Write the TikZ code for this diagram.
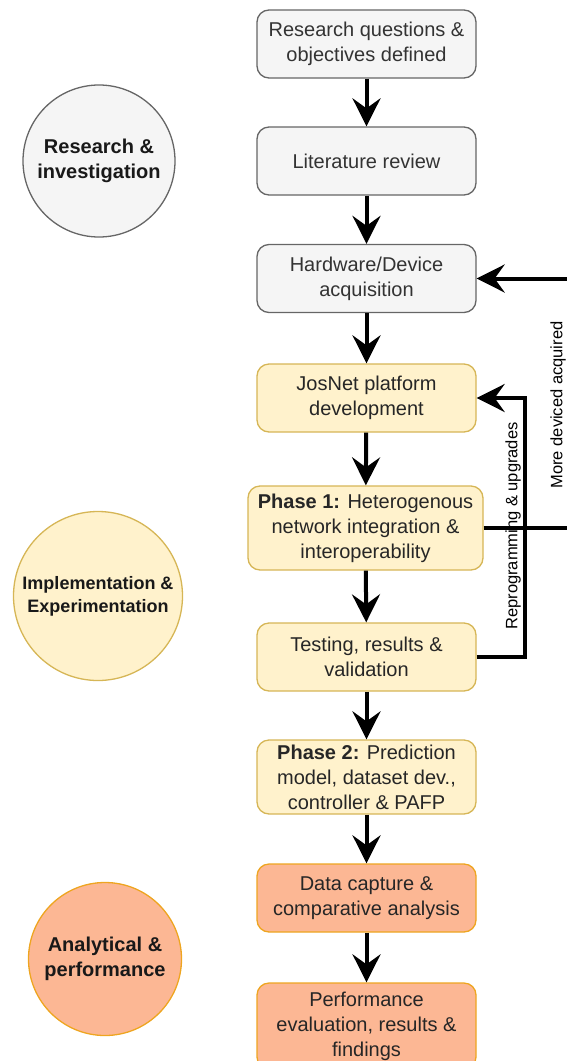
\documentclass[tikz,border=0pt]{standalone}
\usepackage{fontspec}
\setmainfont{Liberation Sans}
\usetikzlibrary{arrows.meta}

\definecolor{greyfill}{HTML}{F5F5F5}
\definecolor{greyline}{HTML}{666666}
\definecolor{greytext}{HTML}{333333}
\definecolor{yelfill}{HTML}{FFF2CC}
\definecolor{yelline}{HTML}{D6B656}
\definecolor{orfill}{RGB}{252,183,148}
\definecolor{orline}{RGB}{238,165,32}

\tikzset{
  x=1pt, y=-1pt,
  boxbase/.style={rectangle, rounded corners=12pt, line width=1.3pt,
    minimum width=219pt, minimum height=68pt, align=center,
    font=\fontsize{20}{25}\selectfont, inner sep=2pt},
  greybox/.style={boxbase, fill=greyfill, draw=greyline, text=greytext},
  yelbox/.style={boxbase, fill=yelfill, draw=yelline, text=black!85},
  orbox/.style={boxbase, fill=orfill, draw=orline, text=black!85},
  stage/.style={circle, line width=1.3pt, align=center, inner sep=0pt,
    font=\bfseries\fontsize{20}{25}\selectfont, text=black!90},
  flow/.style={line width=4pt, line join=miter,
    -{Stealth[length=28pt, width=28pt, inset=10pt]}},
  sidelabel/.style={rotate=90, font=\fontsize{16.5}{20}\selectfont, inner sep=0pt}
}

\begin{document}
\begin{tikzpicture}
\path[use as bounding box, clip] (0,0) rectangle (567,1061);

% stage circles on the left
\node[stage, minimum size=152pt, fill=greyfill, draw=greyline] (s1) at (99,161)
  {Research \&\\investigation};
\node[stage, minimum size=169pt, fill=yelfill, draw=yelline,
  font=\bfseries\fontsize{18}{23}\selectfont] (s2) at (98,596)
  {Implementation \&\\Experimentation};
\node[stage, minimum size=153pt, fill=orfill, draw=orline] (s3) at (105,959)
  {Analytical \&\\performance};

% main sequence of steps
\node[greybox] (b1) at (366.5,44) {Research questions \&\\objectives defined};
\node[greybox] (b2) at (366.5,161) {Literature review};
\node[greybox] (b3) at (366.5,278.5) {Hardware/Device\\acquisition};
\node[yelbox] (b4) at (366.5,398) {JosNet platform\\development};
\node[yelbox, minimum width=235pt, minimum height=84pt] (b5) at (365.5,528)
  {\textbf{Phase 1:} Heterogenous\\network integration \&\\interoperability};
\node[yelbox] (b6) at (366.5,657) {Testing, results \&\\validation};
\node[yelbox, minimum height=74pt] (b7) at (366.5,777)
  {\textbf{Phase 2:} Prediction\\model, dataset dev.,\\controller \& PAFP};
\node[orbox] (b8) at (366.5,898) {Data capture \&\\comparative analysis};
\node[orbox, minimum height=86pt] (b9) at (366.5,1026)
  {Performance\\evaluation, results \&\\findings};

\draw[flow] (b1) -- (b2);
\draw[flow] (b2) -- (b3);
\draw[flow] (b3) -- (b4);
\draw[flow] (b4) -- (b5);
\draw[flow] (b5) -- (b6);
\draw[flow] (b6) -- (b7);
\draw[flow] (b7) -- (b8);
\draw[flow] (b8) -- (b9);

% feedback loops
\coordinate (inner) at (525,0);
\coordinate (outer) at (584,0);
\draw[flow] (b6.east) -- (b6.east -| inner) |- (b4.east);
\draw[flow] (b5.east) -- (b5.east -| outer) |- (b3.east);

\node[sidelabel] (l1) at (513,526) {Reprogramming \& upgrades};
\node[sidelabel] (l2) at (558,405) {More deviced acquired};
\end{tikzpicture}
\end{document}
